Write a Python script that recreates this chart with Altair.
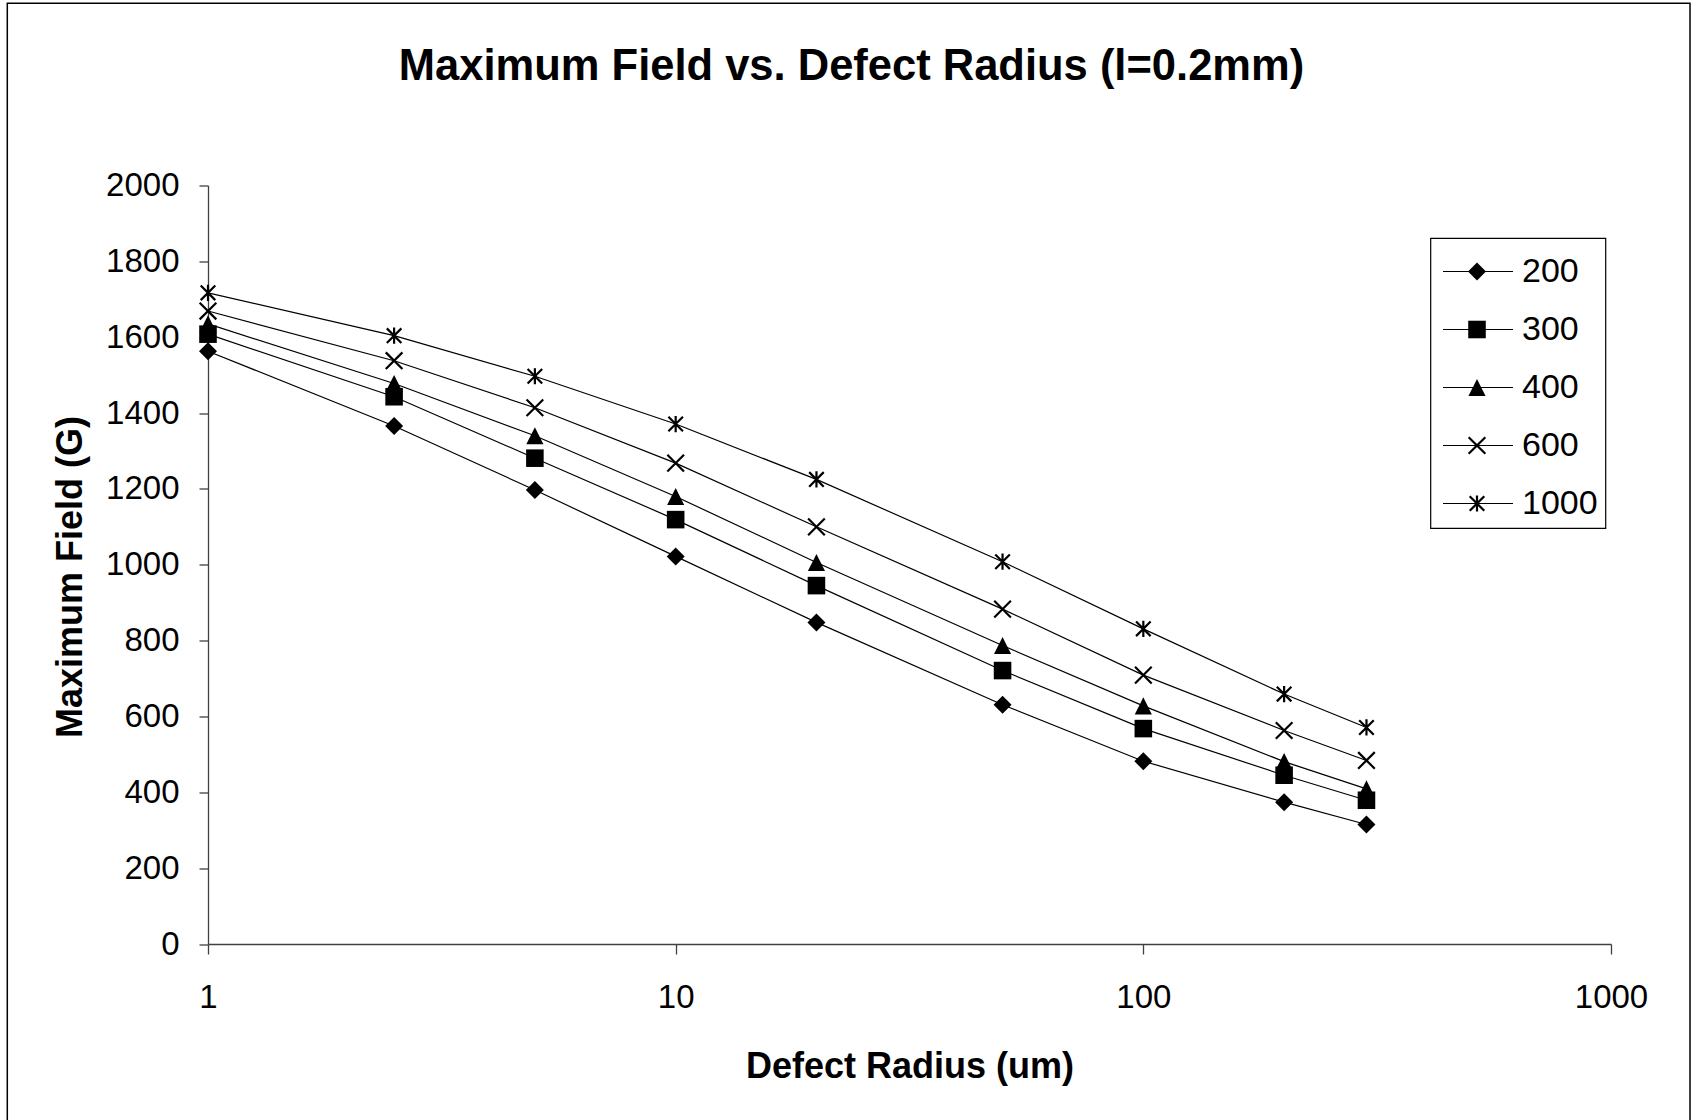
import altair as alt
import pandas as pd

# ---- data ----
radius = [1, 2.5, 5, 10, 20, 50, 100, 200, 300]
series_names = ["200", "300", "400", "600", "1000"]
field_200 = [1563, 1366, 1197, 1022, 848, 631, 482, 374, 315]
field_300 = [1608, 1443, 1281, 1119, 945, 721, 568, 445, 379]
field_400 = [1635, 1478, 1340, 1180, 1006, 787, 628, 481, 409]
field_600 = [1669, 1538, 1414, 1268, 1100, 883, 709, 563, 484]
field_1000 = [1717, 1604, 1497, 1371, 1225, 1008, 831, 659, 571]
x_ticks = [1, 10, 100, 1000]
y_ticks = [0, 200, 400, 600, 800, 1000, 1200, 1400, 1600, 1800, 2000]

series_values = [field_200, field_300, field_400, field_600, field_1000]
rows = []
for name, vals in zip(series_names, series_values):
    for r, v in zip(radius, vals):
        rows.append({"series": name, "radius": r, "field": v})
df = pd.DataFrame(rows)
legend_df = pd.DataFrame({"series": series_names})
one_row = pd.DataFrame({"k": [0]})

FONT = "Liberation Sans"
TRI_PATH = "M0,-1L1,1L-1,1Z"
X_PATH = "M-1,-1L1,1M-1,1L1,-1"
STAR_PATH = "M-0.9,-0.9L0.9,0.9M-0.9,0.9L0.9,-0.9M0,-1L0,1"

shape_enc = alt.Shape("series:N", scale=alt.Scale(domain=series_names,
                      range=["diamond", "square", TRI_PATH, X_PATH, STAR_PATH]), legend=None)
fill_enc = alt.Fill("series:N", scale=alt.Scale(domain=series_names,
                    range=["black", "black", "black", "transparent", "transparent"]), legend=None)
stroke_enc = alt.Stroke("series:N", scale=alt.Scale(domain=series_names,
                        range=["transparent", "transparent", "transparent", "black", "black"]), legend=None)
size_enc = alt.Size("series:O", scale=alt.Scale(domain=series_names,
                    range=[324, 262, 306, 289, 361]), legend=None)

x_enc = alt.X("radius:Q",
              scale=alt.Scale(type="log", domain=[1, 1000], nice=False),
              axis=alt.Axis(values=x_ticks, format="d", tickSize=10, labelPadding=27,
                            labelFlush=False, labelOverlap=False,
                            title="Defect Radius (um)", titleY=133, titleBaseline="alphabetic"))
y_enc = alt.Y("field:Q",
              scale=alt.Scale(domain=[0, 2000], nice=False),
              axis=alt.Axis(values=y_ticks, format="d", tickSize=9, labelPadding=20,
                            title="Maximum Field (G)", titleX=-127, titleY=391,
                            titleAngle=270, titleBaseline="alphabetic", titleAlign="center"))

lines = alt.Chart(df).mark_line(color="black", strokeWidth=1.2).encode(
    x=x_enc, y=y_enc, detail="series:N", order="radius:Q")
points = alt.Chart(df).mark_point(opacity=1, strokeWidth=2.2).encode(
    x=x_enc, y=y_enc, shape=shape_enc, fill=fill_enc, stroke=stroke_enc, size=size_enc)
border = alt.Chart(one_row).mark_rect(fillOpacity=0, stroke="black", strokeWidth=1.5).encode(
    x=alt.value(-200.7), x2=alt.value(1482), y=alt.value(-182.2), y2=alt.value(945))
main = alt.layer(border, lines, points)

leg_y = alt.Y("series:N", scale=alt.Scale(type="point", domain=series_names,
              range=[86, 318], padding=0), axis=None)
leg_box = alt.Chart(one_row).mark_rect(fill="white", stroke="black", strokeWidth=1.2).encode(
    x=alt.value(1222.7), x2=alt.value(1397.7), y=alt.value(52.8), y2=alt.value(342.8))
leg_rule = alt.Chart(legend_df).mark_rule(color="black", strokeWidth=1.2).encode(
    x=alt.value(1235), x2=alt.value(1305), y=leg_y)
leg_pts = alt.Chart(legend_df).mark_point(opacity=1, strokeWidth=2.2).encode(
    x=alt.value(1269), y=leg_y, shape=shape_enc, fill=fill_enc, stroke=stroke_enc, size=size_enc)
leg_txt = alt.Chart(legend_df).mark_text(align="left", baseline="middle", fontSize=34,
                                          font=FONT, color="black").encode(
    x=alt.value(1314), y=leg_y, text="series:N")
legend = alt.layer(leg_box, leg_rule, leg_pts, leg_txt)

chart = alt.layer(main, legend).resolve_scale(y="independent").properties(
    width=1403, height=758.5,
    padding={"left": 208, "top": 185.5, "right": 83, "bottom": 176},
    autosize=alt.AutoSizeParams(type="none"),
    background="white",
    title=alt.TitleParams(text="Maximum Field vs. Defect Radius (l=0.2mm)", fontSize=43.5,
                          font=FONT, fontWeight="bold", anchor="middle", dx=-58,
                          offset=0, dy=121, baseline="alphabetic", color="black"),
).configure_view(strokeWidth=0).configure_axis(
    grid=False, domainColor="#404040", tickColor="#404040", domainWidth=1.3, tickWidth=1.3,
    labelColor="black", labelFont=FONT, labelFontSize=33, titleFont=FONT, titleFontSize=36,
    titleFontWeight="bold", titleColor="black")

chart.save("out.html", embed_options={"renderer": "svg", "actions": False})
